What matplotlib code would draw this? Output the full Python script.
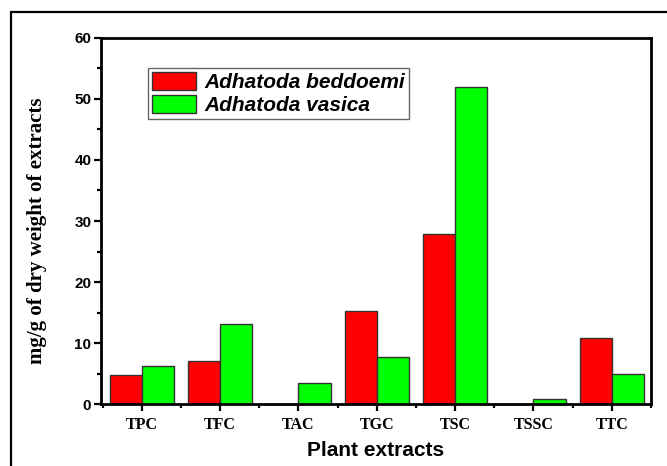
import matplotlib
matplotlib.use("Agg")
import matplotlib.pyplot as plt
import numpy as np
from matplotlib.patches import Rectangle
from matplotlib.ticker import MultipleLocator, FixedLocator

categories = ["TPC", "TFC", "TAC", "TGC", "TSC", "TSSC", "TTC"]
beddoemi = [4.7, 7.1, 0.0, 15.3, 27.9, 0.0, 10.75]
vasica = [6.2, 13.15, 3.5, 7.75, 51.9, 0.87, 4.85]
series_names = ["Adhatoda beddoemi", "Adhatoda vasica"]

fig = plt.figure(figsize=(6.67, 4.66), dpi=100)
ax = fig.add_axes([0.1514, 0.133, 0.8246, 0.7855])

x = np.arange(len(categories))
w = 0.41
ax.bar(x - w / 2, beddoemi, width=w, color="#ff0000", edgecolor="#333333",
       linewidth=1.0, label=series_names[0])
ax.bar(x + w / 2, vasica, width=w, color="#00ff00", edgecolor="#333333",
       linewidth=1.0, label=series_names[1])

ax.set_xlim(-0.52, 6.5)
ax.set_ylim(0, 60)
ax.set_xticks(x)
ax.set_xticklabels(categories, fontfamily="Liberation Serif", fontweight="bold",
                   fontsize=11.5)
ax.xaxis.set_minor_locator(FixedLocator(np.arange(-0.5, 7, 1.0)))
ax.yaxis.set_major_locator(MultipleLocator(10))
ax.yaxis.set_minor_locator(MultipleLocator(5))
for lab in ax.get_yticklabels():
    lab.set_fontfamily("Liberation Sans")
    lab.set_fontweight("bold")
    lab.set_fontsize(11)

ax.tick_params(axis="both", which="major", direction="out", length=5, width=1.6,
               colors="black")
ax.tick_params(axis="both", which="minor", direction="out", length=3, width=1.6)
ax.tick_params(axis="x", which="major", pad=4)
ax.tick_params(axis="y", which="major", pad=2)
for s in ax.spines.values():
    s.set_linewidth(2.0)
    s.set_color("black")

ax.set_xlabel("Plant extracts", fontfamily="Liberation Sans", fontweight="bold",
              fontsize=15, labelpad=6)
ax.set_ylabel("mg/g of dry weight of extracts", fontfamily="Liberation Serif",
              fontweight="bold", fontsize=15)
ax.yaxis.set_label_coords(-0.098, 0.473)

leg = ax.legend(loc="upper left", bbox_to_anchor=(0.0855, 0.918), borderaxespad=0,
                prop={"family": "Liberation Sans", "style": "italic",
                      "weight": "bold", "size": 15},
                fancybox=False, framealpha=1, edgecolor="#666666",
                handlelength=2.1, handleheight=0.95, handletextpad=0.4,
                labelspacing=0.12, borderpad=0.2)
leg.get_frame().set_linewidth(1.0)

# outer border of the figure panel
fig.add_artist(Rectangle((11 / 667, -0.2), 1.2, 1.2 - 12 / 466,
                         transform=fig.transFigure, fill=False,
                         edgecolor="black", linewidth=1.6))

fig.savefig("out.png", dpi=100)
